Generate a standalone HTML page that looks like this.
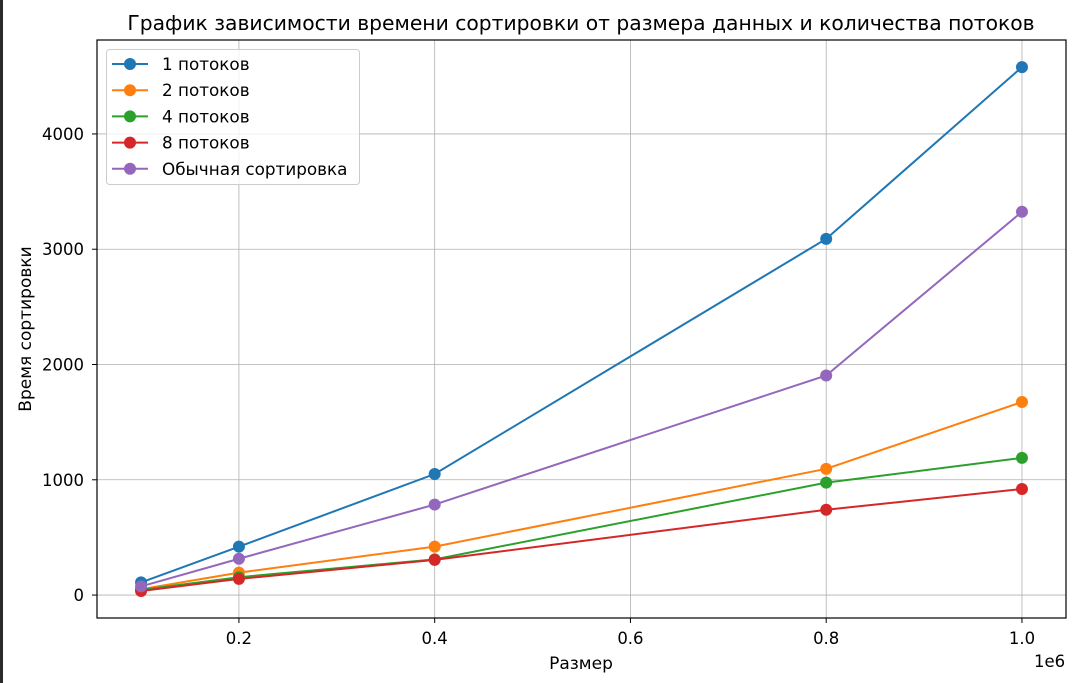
<!DOCTYPE html>
<html><head><meta charset="utf-8"><style>
body{margin:0;background:#fff;}
svg{display:block;font-family:"DejaVu Sans","Liberation Sans",sans-serif;}
</style></head><body>
<svg id="chart" width="1074" height="683">
<rect x="0" y="0" width="3" height="683" fill="#2b2b2b"/>
<text x="581" y="30" font-size="20.3" text-anchor="middle" fill="#000">График зависимости времени сортировки от размера данных и количества потоков</text>
<g id="grid"></g>
<g id="series"></g>
<rect x="97" y="40" width="969" height="578" fill="none" stroke="#000" stroke-width="1.2"/>
<g id="ticks"></g>
<text x="581" y="669" font-size="17" text-anchor="middle">Размер</text>
<text x="1034" y="667" font-size="16.5">1e6</text>
<text transform="translate(31,329) rotate(-90)" font-size="17" text-anchor="middle">Время сортировки</text>
<g id="legend"></g>
</svg>
<script>
const xs=[0.1,0.2,0.4,0.8,1.0];
const names=["1 потоков","2 потоков","4 потоков","8 потоков","Обычная сортировка"];
const colors=["#1f77b4","#ff7f0e","#2ca02c","#d62728","#9467bd"];
const s1=[110,420,1050,3090,4580];
const s2=[50,195,420,1095,1675];
const s4=[45,155,310,975,1190];
const s8=[35,140,305,740,920];
const sNormal=[75,315,785,1905,3325];
const xTicks=[0.2,0.4,0.6,0.8,1.0];
const xTickLabels=["0.2","0.4","0.6","0.8","1.0"];
const yTicks=[0,1000,2000,3000,4000];
const NS="http://www.w3.org/2000/svg";
const X=v=>97+(v-0.055)/(0.99)*969;
const Y=v=>618-(v+199)/(5014)*578;
function mk(t,a,p){const e=document.createElementNS(NS,t);for(const k in a)e.setAttribute(k,a[k]);p.appendChild(e);return e;}
const grid=document.getElementById('grid'),ticks=document.getElementById('ticks');
xTicks.forEach((v,i)=>{
 const g=mk('line',{x1:X(v),x2:X(v),y1:40,y2:618,stroke:'#b0b0b0','stroke-width':0.8},grid);
 
 
 const t=mk('line',{x1:X(v),x2:X(v),y1:618,y2:623,stroke:'#000'},ticks);
 
 
 const l=mk('text',{x:X(v),y:644,'font-size':16.5,'text-anchor':'middle'},ticks);l.textContent=xTickLabels[i];
 
 
});
yTicks.forEach(v=>{
 const g=mk('line',{x1:97,x2:1066,y1:Y(v),y2:Y(v),stroke:'#b0b0b0','stroke-width':0.8},grid);
 
 
 const t=mk('line',{x1:92,x2:97,y1:Y(v),y2:Y(v),stroke:'#000'},ticks);
 
 
 const l=mk('text',{x:84,y:Y(v)+6,'font-size':16.5,'text-anchor':'end'},ticks);l.textContent=String(v);
 
 
});
const series=[s1,s2,s4,s8,sNormal];
const sg=document.getElementById('series');
series.forEach((s,i)=>{
 const g=mk('g',{},sg);
 
 
 mk('polyline',{points:s.map((v,j)=>X(xs[j])+','+Y(v)).join(' '),fill:'none',stroke:colors[i],'stroke-width':2},g);
 s.forEach((v,j)=>{const c=mk('circle',{cx:X(xs[j]),cy:Y(v),r:6,fill:colors[i]},g);
  
  });
});
const lg=document.getElementById('legend');
mk('rect',{x:106.5,y:49.5,width:253,height:135,rx:3,fill:'#fff','fill-opacity':0.8,stroke:'#ccc'},lg);
names.forEach((n,i)=>{
 const y=64+i*26.2;
 const e=mk('g',{},lg);
 
 
 mk('line',{x1:112,x2:148,y1:y,y2:y,stroke:colors[i],'stroke-width':2},e);
 mk('circle',{cx:130,cy:y,r:6,fill:colors[i]},e);
 const t=mk('text',{x:162,y:y+6,'font-size':16.8},e);t.textContent=n;
});
</script>
</body></html>
